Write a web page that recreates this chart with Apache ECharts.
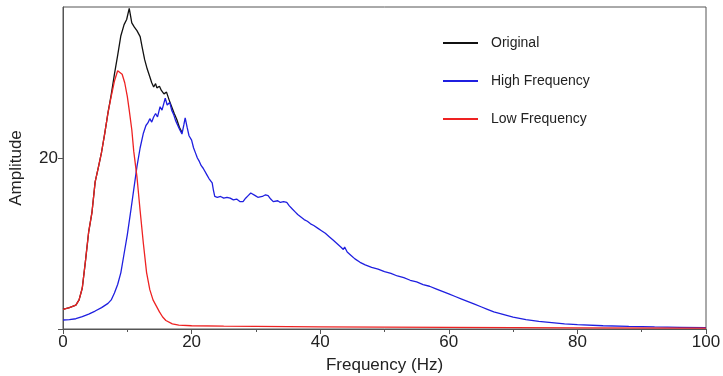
<!DOCTYPE html>
<html lang="en">
<head>
    <meta charset="UTF-8">
    <title>Amplitude spectrum</title>
    <script type="text/javascript" src="https://cdn.jsdelivr.net/npm/echarts@6.0.0/dist/echarts.min.js"></script>
    <style>
        html, body { margin: 0; padding: 0; background: #fff; }
        #chart { width: 723px; height: 376px; }
    </style>
</head>
<body>
<div id="chart"></div>
<script type="text/javascript">
    // series names
    var names = ['Original', 'High Frequency', 'Low Frequency'];
    var xTicks = [0, 20, 40, 60, 80, 100];

    // [frequency (Hz), amplitude]
    var originalData = [
        [0, 2.3], [1, 2.5], [2, 2.8], [2.5, 3.4], [3, 4.8], [3.5, 8.0], [4, 11.4], [4.5, 13.6],
        [5, 17.2], [5.5, 18.9], [6, 20.7], [6.5, 22.9], [7, 25.3], [7.5, 27.4], [8, 29.8],
        [8.5, 32.0], [9, 34.3], [9.5, 35.6], [9.9, 36.2], [10.3, 37.5], [10.7, 35.8],
        [11.1, 35.3], [11.5, 34.9], [12.0, 34.2], [12.3, 33.0], [12.7, 31.5], [13.1, 30.4],
        [13.5, 29.5], [13.8, 28.8], [14.1, 28.3], [14.4, 28.7], [14.6, 28.2], [15.0, 28.4],
        [15.3, 27.9], [15.7, 27.5], [16.1, 27.7], [16.5, 26.8], [16.9, 26.0], [17.3, 25.2],
        [17.7, 24.5], [18.1, 23.6], [18.5, 23.0]
    ];
    var highData = [
        [0, 1.05], [1, 1.1], [2, 1.2], [3, 1.45], [4, 1.75], [5, 2.1], [6, 2.5], [7, 3.0],
        [7.5, 3.4], [8, 4.2], [8.5, 5.2], [9, 6.6], [9.5, 8.8], [10, 11.0], [10.5, 13.6],
        [11, 16.3], [11.5, 19.0], [12, 21.2], [12.5, 22.9], [12.9, 23.8], [13.2, 24.1],
        [13.5, 24.6], [13.8, 24.2], [14.1, 24.8], [14.4, 25.2], [14.7, 24.8], [15.1, 26.0],
        [15.4, 25.6], [15.6, 25.4], [15.9, 27.0], [16.2, 26.2], [16.6, 26.5], [16.9, 25.6],
        [17.2, 25.1], [17.5, 24.4], [17.8, 23.9], [18.1, 23.4], [18.5, 22.8], [18.8, 23.9],
        [19.0, 24.7], [19.3, 23.6], [19.6, 22.6], [20.0, 22.1], [20.3, 21.2], [20.6, 20.6],
        [20.9, 20.0], [21.2, 19.6], [21.5, 19.1], [21.8, 18.8], [22.1, 18.6], [22.4, 18.0],
        [22.7, 17.6], [23.0, 17.4], [23.2, 17.1], [23.4, 16.2], [23.6, 15.5], [24.0, 15.4],
        [24.5, 15.5], [25.0, 15.3], [25.5, 15.4], [26.0, 15.3], [26.5, 15.1], [27.0, 15.2],
        [27.5, 14.9], [28.0, 14.9], [28.4, 15.3], [28.8, 15.6], [29.2, 15.9], [29.5, 15.9],
        [29.9, 15.6], [30.3, 15.4], [30.6, 15.3], [31.0, 15.5], [31.5, 15.7], [31.9, 15.6],
        [32.3, 15.2], [32.7, 14.9], [33.0, 14.7], [33.4, 15.0], [33.8, 14.8], [34.3, 14.9],
        [34.8, 14.8], [35.2, 14.4], [35.7, 14.0], [36.1, 13.7], [36.5, 13.4], [37.0, 13.1],
        [37.5, 12.8], [38.0, 12.6], [38.5, 12.3], [39.0, 12.1], [39.6, 11.8], [40.2, 11.5],
        [40.8, 11.2], [41.4, 10.8], [42.0, 10.4], [42.6, 10.0], [43.2, 9.6], [43.6, 9.3],
        [43.8, 9.6], [44.2, 9.0], [44.8, 8.6], [45.4, 8.2], [46.2, 7.8], [47.0, 7.5],
        [48.0, 7.2], [49.0, 7.0], [50.0, 6.7], [51.0, 6.5], [52.0, 6.2], [53.0, 6.0],
        [54.0, 5.7], [55.0, 5.5], [56.0, 5.2], [57.0, 5.0], [58.0, 4.7], [59.0, 4.4],
        [60.0, 4.1], [61.0, 3.8], [62.0, 3.5], [63.0, 3.2], [64.0, 2.9], [65.0, 2.6],
        [66.0, 2.3], [67.0, 2.0], [68.0, 1.8], [69.0, 1.6], [70.0, 1.4], [72.0, 1.1],
        [74.0, 0.9], [76.0, 0.75], [78.0, 0.6], [80.0, 0.5], [84.0, 0.38], [88.0, 0.3],
        [92.0, 0.24], [96.0, 0.2], [100, 0.16]
    ];
    var lowData = [
        [0, 2.3], [1, 2.5], [2, 2.8], [2.5, 3.4], [3, 4.8], [3.5, 8.0], [4, 11.4], [4.5, 13.6],
        [5, 17.2], [5.5, 18.9], [6, 20.7], [6.5, 22.9], [7, 25.3], [7.5, 27.2], [8, 29.0],
        [8.5, 30.2], [8.8, 30.3], [9.2, 29.8], [9.6, 28.8], [10, 27.2], [10.3, 25.6],
        [10.7, 23.3], [11, 20.8], [11.5, 17.8], [12, 13.8], [12.5, 10.0], [13, 6.6],
        [13.5, 4.6], [14, 3.4], [14.5, 2.7], [15, 2.0], [15.5, 1.4], [16, 1.0], [17, 0.6],
        [18, 0.45], [20, 0.38], [25, 0.33], [30, 0.3], [40, 0.26], [50, 0.22], [60, 0.18],
        [70, 0.15], [80, 0.13], [100, 0.1]
    ];

    var colors = ['#111111', '#1f1fe0', '#ee2222'];
    var axisColor = '#555';
    var font = '"Liberation Sans", Arial, sans-serif';

    var myChart = echarts.init(document.getElementById('chart'));

    function lineSeries(name, data, color) {
        return {
            type: 'line',
            name: name,
            data: data,
            showSymbol: false,
            symbol: 'none',
            smooth: false,
            lineStyle: { color: color, width: 1.3 },
            itemStyle: { color: color },
            emphasis: { disabled: true }
        };
    }

    var option = {
        animation: false,
        backgroundColor: '#fff',
        color: colors,
        grid: {
            left: 63, right: 17, top: 7, bottom: 47,
            outerBoundsMode: 'none',
            containLabel: false,
            show: true,
            borderColor: axisColor,
            borderWidth: 1
        },
        legend: {
            orient: 'vertical',
            left: 443,
            top: 35,
            padding: 0,
            itemWidth: 35,
            itemHeight: 2,
            itemGap: 22,
            icon: 'rect',
            data: names,
            textStyle: {
                fontFamily: font,
                fontSize: 14,
                color: '#222',
                lineHeight: 16,
                padding: [0, 0, 0, 8]
            }
        },
        xAxis: {
            type: 'value',
            min: 0,
            max: 100,
            interval: 20,
            name: 'Frequency (Hz)',
            nameLocation: 'middle',
            nameGap: 28,
            nameTextStyle: { fontFamily: font, fontSize: 17, color: '#222' },
            axisLine: { lineStyle: { color: axisColor, width: 1 } },
            axisTick: { length: 5, lineStyle: { color: axisColor } },
            minorTick: { show: true, splitNumber: 2, length: 3, lineStyle: { color: axisColor } },
            axisLabel: {
                fontFamily: font, fontSize: 17, color: '#222', margin: 5,
                customValues: xTicks
            },
            splitLine: { show: false }
        },
        yAxis: {
            type: 'value',
            min: 0,
            max: 37.66,
            interval: 20,
            name: 'Amplitude',
            nameLocation: 'middle',
            nameGap: 38,
            nameRotate: 90,
            nameTextStyle: { fontFamily: font, fontSize: 17, color: '#222' },
            axisLine: { show: true, lineStyle: { color: axisColor, width: 1 } },
            axisTick: { show: true, length: 5, lineStyle: { color: axisColor } },
            axisLabel: {
                fontFamily: font, fontSize: 17, color: '#222', margin: 5,
                showMaxLabel: false,
                formatter: function (v) { return v === 0 ? '' : String(v); }
            },
            splitLine: { show: false }
        },
        series: [
            lineSeries(names[0], originalData, colors[0]),
            lineSeries(names[1], highData, colors[1]),
            lineSeries(names[2], lowData, colors[2])
        ]
    };

    myChart.setOption(option);
</script>
</body>
</html>
